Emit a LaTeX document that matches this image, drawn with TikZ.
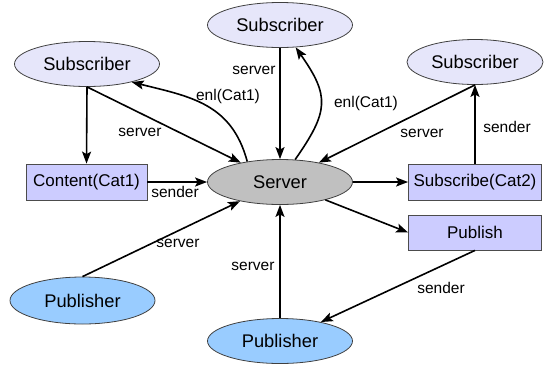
\documentclass[tikz,border=0pt]{standalone}
\usepackage{fontspec}
\setmainfont{Liberation Sans}
\usetikzlibrary{shapes.geometric,arrows.meta}
\definecolor{subfill}{RGB}{230,230,250}
\definecolor{boxfill}{RGB}{204,204,255}
\definecolor{pubfill}{RGB}{153,204,255}
\definecolor{srvfill}{RGB}{192,192,192}
\begin{document}
\begin{tikzpicture}[x=1pt,y=-1pt,
  ell/.style={ellipse, draw=black!75, line width=0.8pt, minimum width=145pt, minimum height=45pt, inner sep=0pt, font=\fontsize{18.3}{20}\selectfont},
  sub/.style={ell, fill=subfill},
  pub/.style={ell, fill=pubfill},
  srv/.style={ell, fill=srvfill},
  box/.style={rectangle, draw=black!70, line width=0.8pt, fill=boxfill, inner sep=0pt, minimum height=36pt, font=\fontsize{17}{19}\selectfont},
  arr/.style={draw, line width=1.6pt, -{Stealth[length=12pt,width=9pt,inset=2.5pt]}},
  lbl/.style={font=\fontsize{15.5}{17}\selectfont, inner sep=0pt}]
\useasboundingbox (0,0) rectangle (544,365);
\node[sub] (tsub) at (280,25) {Subscriber};
\node[sub] (lsub) at (87,64) {Subscriber};
\node[sub, minimum width=136pt] (rsub) at (475,62) {Subscriber};
\node[srv] (server) at (280,182) {Server};
\node[box, minimum width=121pt] (content) at (86.5,182) {Content(Cat1)};
\node[box, minimum width=133pt] (subcat) at (475,182) {Subscribe(Cat2)};
\node[box, minimum width=133pt, minimum height=35pt] (publish) at (475,232.5) {Publish};
\node[pub, minimum height=47pt] (lpub) at (82.5,300.5) {Publisher};
\node[pub] (bpub) at (280,341) {Publisher};
% connectors
\draw[arr] (lsub.south) -- (content.north);
\draw[arr] (lsub.south) -- (server);
\draw[arr] (server.148) to[out=105,in=-14,looseness=1.1] (lsub.-22);
\draw[arr] (tsub) -- (server);
\draw[arr] (server.56) to[out=55,in=-55,looseness=1.35] (tsub.-55);
\draw[arr] (rsub.south) -- (server);
\draw[arr] (subcat.north) -- (rsub.south);
\draw[arr] (content) -- (server);
\draw[arr] (server) -- (subcat);
\draw[arr] (server) -- (publish.west);
\draw[arr] (publish.south) -- (bpub);
\draw[arr] (lpub.north) -- (server);
\draw[arr] (bpub) -- (server);
% labels
\node[lbl] (l1) at (140,132) {server};
\node[lbl] (l2) at (228,96) {enl(Cat1)};
\node[lbl] (l3) at (254,70) {server};
\node[lbl] (l4) at (366,103) {enl(Cat1)};
\node[lbl] (l5) at (422,133) {server};
\node[lbl] (l6) at (507,127) {sender};
\node[lbl] (l7) at (175,192) {sender};
\node[lbl] (l8) at (178,243) {server};
\node[lbl] (l9) at (253,266) {server};
\node[lbl] (l10) at (441,288) {sender};
\end{tikzpicture}
\end{document}
